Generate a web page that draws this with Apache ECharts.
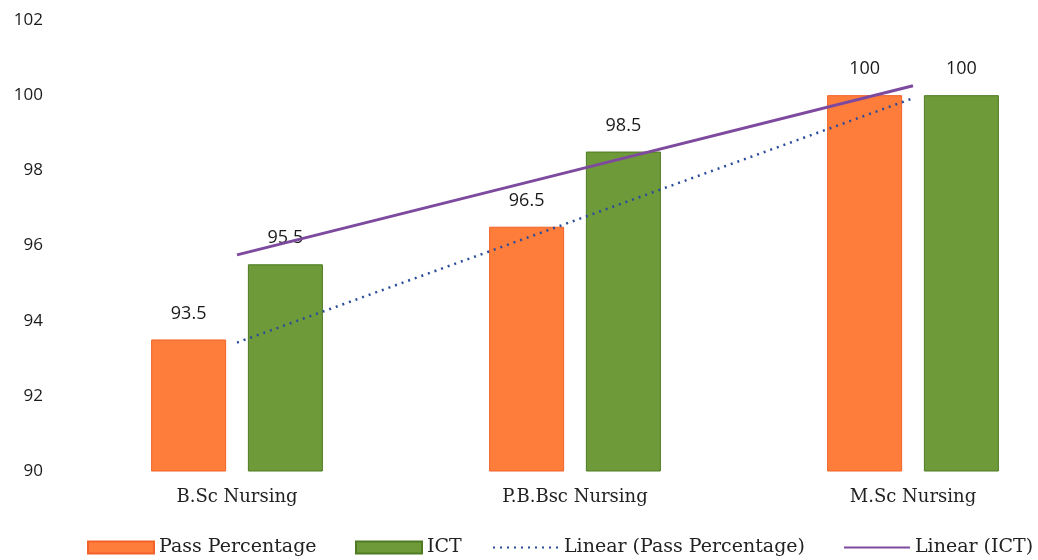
<!DOCTYPE html>
<html>
<head>
<meta charset="utf-8">
<script src="https://cdn.jsdelivr.net/npm/echarts@6/dist/echarts.min.js"></script>
<style>html,body{margin:0;padding:0;background:#fff}#c{width:1038px;height:560px}</style>
</head>
<body>
<div id="c"></div>
<script>
const categories = ['B.Sc Nursing', 'P.B.Bsc Nursing', 'M.Sc Nursing'];
const passPercentage = [93.5, 96.5, 100];
const ict = [95.5, 98.5, 100];
const yTicks = [90, 92, 94, 96, 98, 100, 102];
const legendNames = ['Pass Percentage', 'ICT', 'Linear (Pass Percentage)', 'Linear (ICT)'];

// Linear (least-squares) trendlines of each series, as in the original chart
function linearTrend(vals) {
  const n = vals.length;
  const xs = vals.map((_, i) => i);
  const mx = xs.reduce((a, b) => a + b, 0) / n;
  const my = vals.reduce((a, b) => a + b, 0) / n;
  let num = 0, den = 0;
  xs.forEach((x, i) => { num += (x - mx) * (vals[i] - my); den += (x - mx) * (x - mx); });
  const slope = num / den;
  return xs.map(x => +(my + slope * (x - mx)).toFixed(3));
}
const trendPass = linearTrend(passPercentage);
const trendIct = linearTrend(ict);

const chart = echarts.init(document.getElementById('c'), null, {renderer: 'canvas'});
const labelStyle = {show: true, position: 'top', distance: 17, color: '#1a1a1a', fontSize: 18, fontFamily: 'Open Sans'};
const legendText = {color: '#222', fontSize: 19, fontFamily: 'DejaVu Serif'};
const legendLefts = [82, 350, 487, 838];
const legendIcons = ['rect', 'rect', null, null];
chart.setOption({
  animation: false,
  grid: {left: 68, top: 20, width: 1014, height: 451, outerBoundsMode: 'none', containLabel: false},
  xAxis: {
    type: 'category', data: categories,
    axisLine: {show: false}, axisTick: {show: false},
    axisLabel: {color: '#222', fontSize: 18, fontFamily: 'DejaVu Serif', margin: 17}
  },
  yAxis: {
    type: 'value', min: yTicks[0], max: yTicks[yTicks.length - 1], interval: 2,
    splitLine: {show: false}, axisLine: {show: false}, axisTick: {show: false},
    axisLabel: {color: '#1a1a1a', fontSize: 17, fontFamily: 'Open Sans', margin: 25}
  },
  legend: legendNames.map((name, i) => ({
    left: legendLefts[i], top: 533, itemWidth: 66, itemHeight: 12, itemGap: 0,
    textStyle: legendText,
    data: [legendIcons[i] ? {name: name, icon: legendIcons[i]} : {name: name, itemStyle: {opacity: 0}}]
  })),
  series: [
    {
      name: 'Pass Percentage', type: 'bar', data: passPercentage,
      barWidth: 75, barGap: '29%', barCategoryGap: '49%',
      itemStyle: {color: '#FF7D3B', borderColor: '#F0622A', borderWidth: 1},
      label: labelStyle
    },
    {
      name: 'ICT', type: 'bar', data: ict,
      barWidth: 75,
      itemStyle: {color: '#6F9A3A', borderColor: '#4E7A22', borderWidth: 1},
      label: labelStyle
    },
    {
      name: 'Linear (Pass Percentage)', type: 'line', data: trendPass,
      symbol: 'none', z: 5,
      lineStyle: {color: '#2B4C9B', width: 2.5, type: [2, 5]},
      itemStyle: {color: '#2B4C9B'}
    },
    {
      name: 'Linear (ICT)', type: 'line', data: trendIct,
      symbol: 'none', z: 6,
      lineStyle: {color: '#7E4A9E', width: 3},
      itemStyle: {color: '#7E4A9E'}
    }
  ]
});
</script>
</body>
</html>
